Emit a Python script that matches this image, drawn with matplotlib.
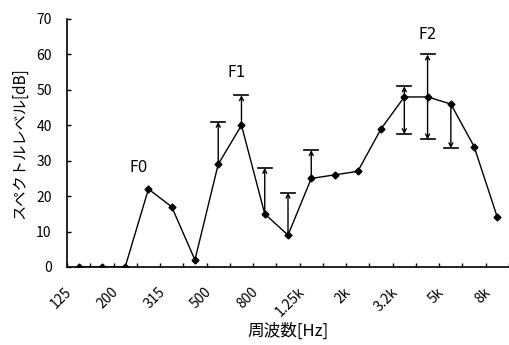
import numpy as np
import matplotlib
matplotlib.use("Agg")
import matplotlib.pyplot as plt
from matplotlib.transforms import ScaledTranslation

plt.rcParams["font.family"] = ["Noto Sans CJK JP", "DejaVu Sans"]

# 1/3 octave bands, 125 Hz .. 8 kHz
bands = ["125", "160", "200", "250", "315", "400", "500", "630", "800", "1k",
         "1.25k", "1.6k", "2k", "2.5k", "3.2k", "4k", "5k", "6.3k", "8k"]
tick_labels = ["125", "200", "315", "500", "800", "1.25k", "2k", "3.2k", "5k", "8k"]
level = [0, 0, 0, 22, 17, 2, 29, 40, 15, 9, 25, 26, 27, 39, 48, 48, 46, 34, 14]

# variation ranges (arrows) : band index, upper, lower
err_idx = [6, 7, 8, 9, 10, 14, 15, 16]
err_upper = [41, 48.5, 28, 21, 33, 51, 60, None]
err_lower = [None, None, None, None, None, 37.5, 36, 33.5]

formant_names = ["F0", "F1", "F2"]
formant_pos = [(2.6, 28), (6.8, 55), (15.0, 65.5)]

fig = plt.figure(figsize=(5.09, 3.45), dpi=100)
ax = fig.add_axes([67 / 509, 78 / 345, 442 / 509, 248 / 345])

x = np.arange(len(bands))
ax.plot(x, level, color="black", linewidth=1.0, marker="D", markersize=3.5,
        markerfacecolor="black", markeredgecolor="black", zorder=3)

for i, up, lo in zip(err_idx, err_upper, err_lower):
    for end in (up, lo):
        if end is None:
            continue
        ax.annotate("", xy=(i, end), xytext=(i, level[i]),
                    arrowprops=dict(arrowstyle="->", color="black", lw=1.0,
                                    shrinkA=0, shrinkB=0, mutation_scale=7))
        ax.plot([i - 0.3, i + 0.3], [end, end], color="black", linewidth=1.2)

for name, (px, py) in zip(formant_names, formant_pos):
    ax.text(px, py, name, ha="center", va="center", fontsize=11,
            family=["DejaVu Sans"])

ax.set_xlim(-0.5, len(bands) - 0.5)
ax.set_ylim(0, 70)
ax.set_yticks(range(0, 71, 10))
ax.set_xticks(np.arange(0, len(bands), 2))
ax.set_xticklabels(tick_labels, rotation=45, ha="right", va="top")
ax.set_xticks(np.arange(-0.5, len(bands), 1), minor=True)
ax.tick_params(axis="x", which="major", length=0, pad=13, labelsize=10)
ax.tick_params(axis="x", which="minor", direction="in", length=3, width=1)
ax.tick_params(axis="y", direction="in", length=3, width=1, pad=11, labelsize=10)

for lab in ax.get_xticklabels():
    lab.set_transform(lab.get_transform() + ScaledTranslation(-4 / 100, 0, fig.dpi_scale_trans))

for s in ["top", "right"]:
    ax.spines[s].set_visible(False)
ax.spines["left"].set_linewidth(1.2)
ax.spines["bottom"].set_linewidth(1.2)

ax.set_xlabel("周波数[Hz]", fontsize=12, labelpad=2)
ax.set_ylabel("スペクトルレベル[dB]", fontsize=11, labelpad=6)

fig.savefig("out.png", dpi=100)
